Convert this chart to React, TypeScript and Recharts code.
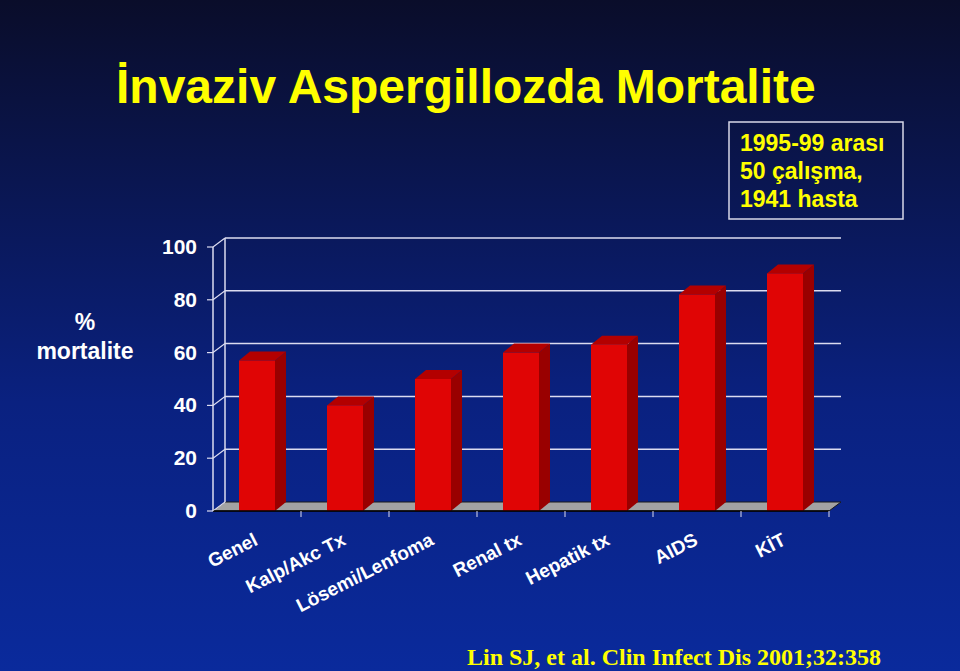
import React from 'react';
import { BarChart, Bar, XAxis, YAxis, CartesianGrid } from 'recharts';

const categories = ['Genel', 'Kalp/Akc Tx', 'Lösemi/Lenfoma', 'Renal tx', 'Hepatik tx', 'AIDS', 'KİT'];
const mortality = [57, 40, 50, 60, 63, 82, 90];
const yTicks = [0, 20, 40, 60, 80, 100];
const titleText = 'İnvaziv Aspergillozda Mortalite';
const noteLines = ['1995-99 arası', '50 çalışma,', '1941 hasta'];
const yLabelLines = ['%', 'mortalite'];
const citation = 'Lin SJ, et al. Clin Infect Dis 2001;32:358';

const data = categories.map((name, i) => ({ name, value: mortality[i] }));

const W = 960;
const H = 671;
const PLOT_LEFT = 213;
const PLOT_RIGHT = 829;
const PLOT_TOP = 247;
const PLOT_BOTTOM = 511;
const PLOT_W = PLOT_RIGHT - PLOT_LEFT;
const PLOT_H = PLOT_BOTTOM - PLOT_TOP;
const Y_AXIS_W = 60;
const X_AXIS_H = 40;
const DX = 12;
const DY = 9;
const BAND = PLOT_W / categories.length;
const GRID = '#dcdcf0';
const SANS = '"Liberation Sans", Arial, Helvetica, sans-serif';
const SERIF = '"Liberation Serif", "Times New Roman", serif';

const Bar3D = (props: any) => {
  const { x, y, width, height } = props;
  if (height == null || width == null) return null;
  const d = 11;
  const e = 9;
  return (
    <g>
      <polygon
        points={`${x + width},${y} ${x + width + d},${y - e} ${x + width + d},${y + height - e} ${x + width},${y + height}`}
        fill="#990000"
      />
      <polygon
        points={`${x},${y} ${x + d},${y - e} ${x + width + d},${y - e} ${x + width},${y}`}
        fill="#b30000"
      />
      <rect x={x} y={y} width={width} height={height} fill="#e00505" />
    </g>
  );
};

const gridLine = (p: any) => {
  const { x1, y1, x2 } = p;
  const key = p.key ?? `g-${y1}`;
  const isBottom = Math.abs(y1 - PLOT_BOTTOM) < 1;
  const isTop = Math.abs(y1 - PLOT_TOP) < 1;
  return (
    <g key={key}>
      {isBottom && (
        <polygon
          points={`${x1},${y1} ${x1 + DX},${y1 - DY} ${x2 + DX},${y1 - DY} ${x2},${y1}`}
          fill="#a3a3a3"
          stroke="#1a1a1a"
          strokeWidth={1}
        />
      )}
      {!isBottom && (
        <line x1={x1 + DX} y1={y1 - DY} x2={x2 + DX} y2={y1 - DY} stroke={GRID} strokeWidth={1.5} />
      )}
      <line x1={x1} y1={y1} x2={x1 + DX} y2={y1 - DY} stroke={GRID} strokeWidth={1.2} />
      {isTop && (
        <line x1={x1 + DX} y1={y1 - DY} x2={x1 + DX} y2={y1 - DY + PLOT_H} stroke={GRID} strokeWidth={1.5} />
      )}
    </g>
  );
};

const YTick = (props: any) => {
  const { x, y, payload } = props;
  return (
    <text
      x={x - 8}
      y={y}
      dy={7}
      textAnchor="end"
      fill="#ffffff"
      fontFamily={SANS}
      fontWeight="bold"
      fontSize={21}
    >
      {payload.value}
    </text>
  );
};

const XTick = (props: any) => {
  const { x, payload } = props;
  const bx = x + BAND / 2;
  const lx = x + 2;
  const ly = PLOT_BOTTOM + 33;
  return (
    <g>
      <line x1={bx} y1={PLOT_BOTTOM} x2={bx} y2={PLOT_BOTTOM + 6} stroke={GRID} strokeWidth={1} />
      <text
        x={lx}
        y={ly}
        textAnchor="end"
        transform={`rotate(-27 ${lx} ${ly})`}
        fill="#ffffff"
        fontFamily={SANS}
        fontWeight="bold"
        fontSize={19}
      >
        {payload.value}
      </text>
    </g>
  );
};

export default function App() {
  return (
    <div
      style={{
        position: 'absolute',
        left: 0,
        top: 0,
        width: W,
        height: H,
        overflow: 'hidden',
        background: 'linear-gradient(to bottom, #0a0d2a 0%, #0a1755 30%, #0a2180 60%, #0a2a9c 100%)',
      }}
    >
      <BarChart
        width={W}
        height={H}
        data={data}
        margin={{ top: PLOT_TOP, right: W - PLOT_RIGHT, bottom: H - PLOT_BOTTOM - X_AXIS_H, left: PLOT_LEFT - Y_AXIS_W }}
      >
        <CartesianGrid vertical={false} horizontal={gridLine} />
        <XAxis
          dataKey="name"
          interval={0}
          height={X_AXIS_H}
          axisLine={{ stroke: '#000000', strokeWidth: 1.5 }}
          tickLine={false}
          tick={<XTick />}
        />
        <YAxis
          type="number"
          domain={[0, 100]}
          ticks={yTicks}
          width={Y_AXIS_W}
          axisLine={{ stroke: GRID, strokeWidth: 1.5 }}
          tickLine={{ stroke: GRID, strokeWidth: 1.2 }}
          tickSize={6}
          tick={<YTick />}
        />
        <Bar dataKey="value" barSize={36} shape={<Bar3D />} isAnimationActive={false} />
      </BarChart>
      <svg
        width={W}
        height={H}
        style={{ position: 'absolute', left: 0, top: 0, pointerEvents: 'none' }}
      >
        <text x={116} y={103} fill="#ffff00" fontFamily={SANS} fontWeight="bold" fontSize={48}>
          {titleText}
        </text>
        <rect x={729} y={122} width={174} height={97} fill="none" stroke="#d8d8e8" strokeWidth={1.5} />
        {noteLines.map((t, i) => (
          <text key={t} x={740} y={151 + i * 28} fill="#ffff00" fontFamily={SANS} fontWeight="bold" fontSize={23}>
            {t}
          </text>
        ))}
        {yLabelLines.map((t, i) => (
          <text key={t} x={85} y={330 + i * 29} textAnchor="middle" fill="#ffffff" fontFamily={SANS} fontWeight="bold" fontSize={23}>
            {t}
          </text>
        ))}
        <text x={467} y={665} fill="#ffff00" fontFamily={SERIF} fontWeight="bold" fontSize={24}>
          {citation}
        </text>
      </svg>
    </div>
  );
}
